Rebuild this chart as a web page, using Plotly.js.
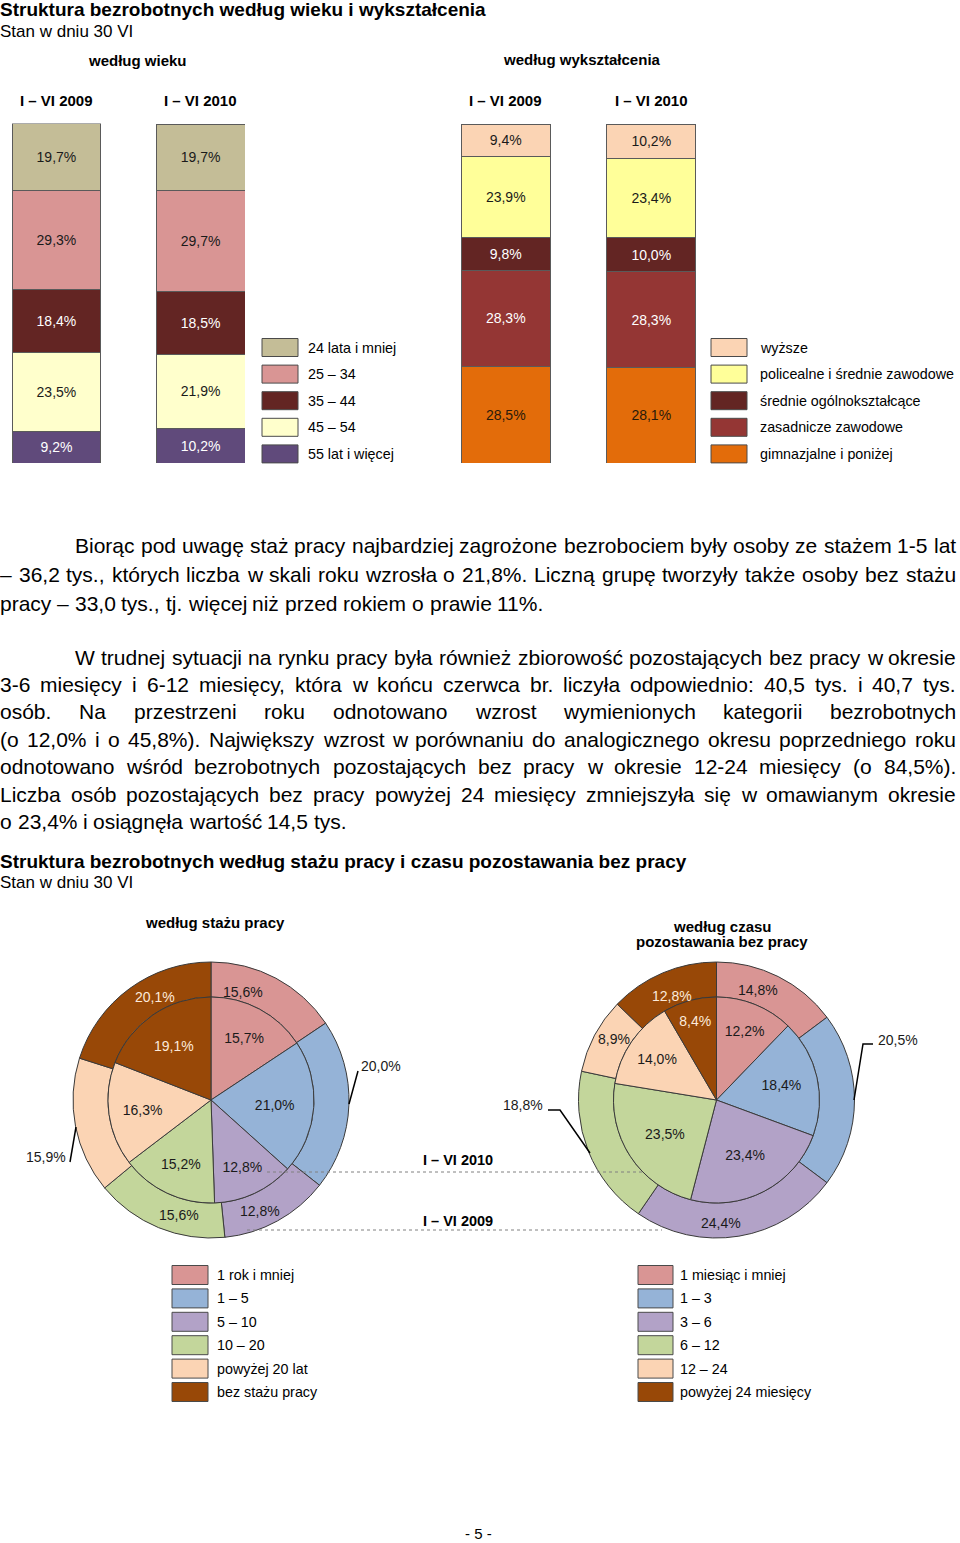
<!DOCTYPE html>
<html><head><meta charset="utf-8">
<script src="https://cdn.plot.ly/plotly-3.0.1.min.js"></script>
<style>html,body{margin:0;padding:0;background:#fff}#chart{width:960px;height:1543px}</style>
</head><body><div id="chart"></div>
<script>
// ---------- DATA ----------
const periods = ['I – VI 2009', 'I – VI 2010'];
// bar stacks, bottom to top
const ageCats = ['55 lat i więcej', '45 – 54', '35 – 44', '25 – 34', '24 lata i mniej'];
const age2009 = [9.2, 23.5, 18.4, 29.3, 19.7];
const age2010 = [10.2, 21.9, 18.5, 29.7, 19.7];
const eduCats = ['gimnazjalne i poniżej', 'zasadnicze zawodowe', 'średnie ogólnokształcące', 'policealne i średnie zawodowe', 'wyższe'];
const edu2009 = [28.5, 28.3, 9.8, 23.9, 9.4];
const edu2010 = [28.1, 28.3, 10.0, 23.4, 10.2];
// pies, clockwise from 12 o'clock
const stazCats = ['1 rok i mniej', '1 – 5', '5 – 10', '10 – 20', 'powyżej 20 lat', 'bez stażu pracy'];
const staz2009 = [15.6, 20.0, 12.8, 15.6, 15.9, 20.1];
const staz2010 = [15.7, 21.0, 12.8, 15.2, 16.3, 19.1];
const czasCats = ['1 miesiąc i mniej', '1 – 3', '3 – 6', '6 – 12', '12 – 24', 'powyżej 24 miesięcy'];
const czas2009 = [14.8, 20.5, 24.4, 18.8, 8.9, 12.8];
const czas2010 = [12.2, 18.4, 23.4, 23.5, 14.0, 8.4];

const title1 = 'Struktura bezrobotnych według wieku i wykształcenia';
const title2 = 'Struktura bezrobotnych według stażu pracy i czasu pozostawania bez pracy';
const subtitle = 'Stan w dniu 30 VI';
const para1 = [
 'Biorąc pod uwagę staż pracy najbardziej zagrożone bezrobociem były osoby ze stażem 1-5 lat',
 '– 36,2 tys., których liczba w skali roku wzrosła o 21,8%. Liczną grupę tworzyły także osoby bez stażu',
 'pracy – 33,0 tys., tj. więcej niż przed rokiem o prawie 11%.'
];
const para2 = [
 'W trudnej sytuacji na rynku pracy była również zbiorowość pozostających bez pracy w okresie',
 '3-6 miesięcy i 6-12 miesięcy, która w końcu czerwca br. liczyła odpowiednio: 40,5 tys. i 40,7 tys.',
 'osób. Na przestrzeni roku odnotowano wzrost wymienionych kategorii bezrobotnych',
 '(o 12,0% i o 45,8%). Największy wzrost w porównaniu do analogicznego okresu poprzedniego roku',
 'odnotowano wśród bezrobotnych pozostających bez pracy w okresie 12-24 miesięcy (o 84,5%).',
 'Liczba osób pozostających bez pracy powyżej 24 miesięcy zmniejszyła się w omawianym okresie',
 'o 23,4% i osiągnęła wartość 14,5 tys.'
];

// ---------- STYLE ----------
const FONT = '"Liberation Sans", Arial, sans-serif';
const ageColors = ['#604A7B', '#FFFFCC', '#632523', '#D99594', '#C4BD97'];
const ageText = ['#ffffff', '#1a1a1a', '#ffffff', '#1a1a1a', '#1a1a1a'];
const eduColors = ['#E36C0A', '#943634', '#632523', '#FFFF99', '#FBD4B4'];
const eduText = ['#2a1a0a', '#ffffff', '#ffffff', '#1a1a1a', '#1a1a1a'];
const pieColors = ['#D99594', '#95B3D7', '#B2A2C7', '#C3D69B', '#FBD4B4', '#984807'];
const pieText = ['#1a1a1a', '#1a1a1a', '#1a1a1a', '#1a1a1a', '#1a1a1a', '#FDEADA'];

const W = 960, H = 1543;
const X = p => p / W, Y = p => 1 - p / H;
const fmt = v => v.toFixed(1).replace('.', ',') + '%';

const traces = [];
function addBars(cats, v09, v10, colors, tcols, xa, ya, width) {
  cats.forEach((c, i) => traces.push({
    type: 'bar', name: c, x: [0, 1], y: [v09[i], v10[i]], width: width,
    xaxis: xa, yaxis: ya,
    marker: {color: colors[i], line: {color: '#5a5a5a', width: 1}},
    texttemplate: '%{y:.1f}%', textposition: 'inside', insidetextanchor: 'middle',
    textangle: 0, constraintext: 'none',
    textfont: {family: FONT, size: 14, color: tcols[i]},
    hoverinfo: 'skip', showlegend: false, cliponaxis: false
  }));
}
addBars(ageCats, age2009, age2010, ageColors, ageText, 'x', 'y', 0.616);
addBars(eduCats, edu2009, edu2010, eduColors, eduText, 'x2', 'y2', 0.612);

function addPie(cats, vals, cx, cy, r, hole, showText) {
  traces.push({
    type: 'pie', labels: cats, values: vals, sort: false, direction: 'clockwise', rotation: 0,
    hole: hole,
    domain: {x: [X(cx - r), X(cx + r)], y: [Y(cy + r), Y(cy - r)]},
    marker: {colors: pieColors, line: {color: '#3a3a3a', width: 1}},
    texttemplate: '%{value:.1f}%',
    textposition: showText ? 'inside' : 'none',
    insidetextorientation: 'horizontal',
    textfont: {family: FONT, size: 14, color: pieText},
    hoverinfo: 'skip', showlegend: false
  });
}
addPie(stazCats, staz2009, 211, 1100, 138, 103 / 138, false);
addPie(stazCats, staz2010, 211, 1100, 103, 0, true);
addPie(czasCats, czas2009, 716.5, 1100, 138, 103 / 138, false);
addPie(czasCats, czas2010, 716.5, 1100, 103, 0, true);

// ---------- ANNOTATIONS & SHAPES ----------
const ann = [], shapes = [];
function txt(px, py, text, o) {
  o = o || {};
  ann.push({xref: 'paper', yref: 'paper', x: X(px), y: Y(py), text: text, showarrow: false,
    xanchor: o.xa || 'left', yanchor: 'middle', borderpad: 0, borderwidth: 0,
    font: {family: FONT, size: o.size || 14, color: o.color || '#000'}});
}
txt(0, 10, '<b>' + title1 + '</b>', {size: 19});
txt(0, 31, subtitle, {size: 17});
txt(137, 60, '<b>według wieku</b>', {xa: 'center', size: 15});
txt(582, 59, '<b>według wykształcenia</b>', {xa: 'center', size: 15});
['x', 'x2'].forEach(xr => periods.forEach((p, i) => ann.push({
  xref: xr, yref: 'paper', x: i, y: Y(100), text: '<b>' + p + '</b>', showarrow: false,
  xanchor: 'center', yanchor: 'middle', font: {family: FONT, size: 15, color: '#000'}})));

function legend(cats, colors, sx0, sx1, tx, y0, dy, sh) {
  cats.forEach((c, i) => {
    const yc = y0 + i * dy;
    shapes.push({type: 'rect', xref: 'paper', yref: 'paper', x0: X(sx0), x1: X(sx1),
      y0: Y(yc + sh / 2), y1: Y(yc - sh / 2), fillcolor: colors[i], line: {color: '#4a4a4a', width: 1}});
    txt(tx, yc, c, {size: 14.3});
  });
}
legend(ageCats.slice().reverse(), ageColors.slice().reverse(), 262, 298, 308, 347.5, 26.6, 18);
legend(eduCats.slice().reverse(), eduColors.slice().reverse(), 711, 747, 760, 347.5, 26.6, 18);
legend(stazCats, pieColors, 172, 208, 217, 1275, 23.4, 19);
legend(czasCats, pieColors, 638, 673, 680, 1275, 23.4, 19);

// justified paragraphs
const BODY = 21, RIGHT = 956;
const ctx = document.createElement('canvas').getContext('2d');
ctx.font = BODY + 'px ' + FONT;
function para(lines, y0, dy, indent) {
  const sp = ctx.measureText(' ').width;
  lines.forEach((ln, k) => {
    const last = k === lines.length - 1;
    const left = k === 0 ? indent : 0;
    const words = ln.split(' ');
    const ws = words.map(w => ctx.measureText(w).width);
    const tot = ws.reduce((a, b) => a + b, 0);
    const gap = last ? sp : (RIGHT - left - tot) / (words.length - 1);
    let x = left;
    words.forEach((w, i) => { txt(x, y0 + k * dy, w, {size: BODY}); x += ws[i] + gap; });
  });
}
para(para1, 545, 29, 75);
para(para2, 657, 27.4, 75);

txt(0, 861, '<b>' + title2 + '</b>', {size: 19});
txt(0, 882, subtitle, {size: 17});
txt(215, 922, '<b>według stażu pracy</b>', {xa: 'center', size: 15});
txt(722, 926, '<b>według czasu</b>', {xa: 'center', size: 15});
txt(722, 942, '<b>pozostawania bez pracy</b>', {xa: 'center', size: 15});

// outer-ring (I–VI 2009) labels: label position per slice (pixels)
const ringPosL = [[243, 992], [381, 1066], [260, 1211], [179, 1215], [46, 1157], [155, 997]];
const ringPosR = [[758, 990], [898, 1040], [721, 1223], [523, 1105], [614, 1039], [672, 996]];
staz2009.forEach((v, i) => txt(ringPosL[i][0], ringPosL[i][1], fmt(v), {xa: 'center', color: pieText[i]}));
czas2009.forEach((v, i) => txt(ringPosR[i][0], ringPosR[i][1], fmt(v), {xa: 'center', color: pieText[i]}));

// leader lines for the labels outside the ring
function path(pts) { return pts.map((p, i) => (i ? 'L' : 'M') + X(p[0]) + ',' + Y(p[1])).join(' '); }
function leader(pts) { shapes.push({type: 'path', xref: 'paper', yref: 'paper', path: path(pts), line: {color: '#000', width: 1.5}}); }
leader([[349, 1104], [358, 1071]]);
leader([[76, 1127], [70, 1162]]);
leader([[854, 1100], [863, 1044], [873, 1044]]);
leader([[548, 1110], [560, 1110], [590, 1153]]);

// period guide lines between pies
shapes.push({type: 'line', xref: 'paper', yref: 'paper', x0: X(267), x1: X(645), y0: Y(1172), y1: Y(1172), line: {color: '#808080', width: 1, dash: 'dot'}});
shapes.push({type: 'line', xref: 'paper', yref: 'paper', x0: X(247), x1: X(662), y0: Y(1230), y1: Y(1230), line: {color: '#808080', width: 1, dash: 'dot'}});
txt(423, 1160, '<b>' + periods[1] + '</b>', {size: 14.5});
txt(423, 1221, '<b>' + periods[0] + '</b>', {size: 14.5});

txt(478, 1533, '- 5 -', {xa: 'center', size: 15});

const hid = {visible: false, fixedrange: true};
const layout = {
  width: W, height: H, margin: {l: 0, r: 0, t: 0, b: 0},
  paper_bgcolor: '#fff', plot_bgcolor: 'rgba(0,0,0,0)',
  separators: ', ', barmode: 'stack', showlegend: false,
  font: {family: FONT, color: '#000'},
  xaxis: Object.assign({domain: [X(12), X(245)], range: [-0.308, 1.308]}, hid),
  yaxis: Object.assign({domain: [Y(463), Y(123.6)], range: [0, 100.15]}, hid),
  xaxis2: Object.assign({domain: [X(461), X(696)], range: [-0.3075, 1.3075]}, hid),
  yaxis2: Object.assign({domain: [Y(463), Y(123.6)], range: [0, 100.15]}, hid),
  annotations: ann, shapes: shapes
};
Plotly.newPlot('chart', traces, layout, {staticPlot: true, displayModeBar: false});
</script>
</body></html>
